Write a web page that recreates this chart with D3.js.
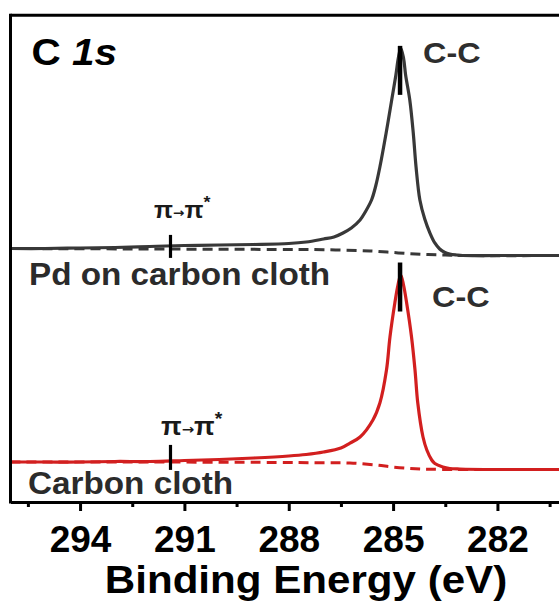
<!DOCTYPE html>
<html>
<head>
<meta charset="utf-8">
<script src="https://cdn.jsdelivr.net/npm/d3@7"></script>
<style>
  html, body { margin: 0; padding: 0; background: #fff; overflow: hidden; }
  svg { display: block; }
  text { font-family: "Liberation Sans", Arial, Helvetica, sans-serif; font-weight: bold; }
</style>
</head>
<body>
<svg id="chart" width="559" height="603"></svg>
<script>
// C 1s XPS spectra: binding energy (eV) vs intensity (a.u.)

// Pd on carbon cloth
const pdEnergy = [296.0, 295.0, 294.0, 293.0, 292.0, 291.0, 290.0, 289.0, 288.0, 287.5,
  287.0, 286.7, 286.44, 286.2, 285.95, 285.8, 285.62, 285.5, 285.38, 285.2,
  285.04, 284.92, 284.85, 284.78, 284.70, 284.64, 284.52, 284.42, 284.34, 284.23,
  284.09, 283.94, 283.8, 283.66, 283.51, 283.37, 283.17, 283.0, 282.0, 281.0, 280.0];
const pdIntensity = [1.95, 1.95, 2.06, 2.16, 2.37, 2.57, 2.67, 2.78, 2.98, 3.29,
  3.91, 4.32, 5.14, 6.17, 7.82, 9.47, 11.93, 14.81, 18.72, 25.72,
  32.51, 37.65, 41.15, 43.21, 41.15, 37.65, 32.51, 25.72, 18.72, 11.93,
  8.02, 5.14, 3.09, 1.85, 1.13, 0.82, 0.62, 0.51, 0.51, 0.51, 0.51];
const pdBgEnergy = [296, 292, 288, 287, 286, 285.5, 285, 284.5, 284, 283.5, 283, 280];
const pdBackground = [1.95, 1.85, 1.75, 1.71, 1.54, 1.38, 1.13, 0.88, 0.72, 0.62, 0.51, 0.51];

// Bare carbon cloth
const ccEnergy = [296.0, 295.0, 294.0, 293.0, 292.0, 291.0, 290.0, 289.0, 288.0, 287.5,
  287.0, 286.5, 286.24, 285.95, 285.58, 285.38, 285.19, 285.09, 284.95, 284.86,
  284.78, 284.70, 284.61, 284.47, 284.37, 284.29, 284.14, 284.03, 283.89, 283.80,
  283.57, 283.37, 283.08, 282.0, 281.0, 280.0];
const ccIntensity = [8.02, 8.02, 8.02, 8.13, 8.13, 8.33, 8.54, 8.85, 9.26, 9.57,
  10.08, 10.91, 11.93, 13.17, 16.67, 20.16, 26.95, 33.74, 40.74, 44.44,
  46.50, 44.44, 40.74, 33.74, 26.95, 20.16, 13.17, 10.49, 8.44, 7.72,
  7.00, 6.69, 6.58, 6.48, 6.48, 6.48];
const ccBgEnergy = [296, 292, 288, 287, 286.24, 285.5, 285, 284.5, 284, 283, 280];
const ccBackground = [8.02, 8.02, 7.92, 7.86, 7.82, 7.41, 6.99, 6.69, 6.54, 6.48, 6.48];

// vertical stacking offsets
const pdOffset = 50;
const ccOffset = 0;

// peak assignments
const ccPeakEnergy = 284.8;
const piPeakEnergy = 291.4;

const majorTicks = [294, 291, 288, 285, 282];
const minorTicks = [295.5, 292.5, 289.5, 286.5, 283.5, 280.5];
const sampleNames = ["Pd on carbon cloth", "Carbon cloth"];
const peakName = "C-C";
const axisTitle = "Binding Energy (eV)";

const svg = d3.select("#chart");
const x = d3.scaleLinear().domain([296, 280]).range([10.5, 567]);
const y = d3.scaleLinear().domain([0, 100]).range([501, 15]);
const axisY = 502;
const frameTop = 15.3;

const zip = (a, b) => a.map((e, i) => [e, b[i]]);
const lineGen = off => d3.line()
  .x(d => x(d[0]))
  .y(d => y(d[1] + off))
  .curve(d3.curveCatmullRom.alpha(0.5));

// value of a spectrum at a given energy (linear between read points)
function valueAt(energies, values, e) {
  for (let i = 0; i < energies.length - 1; i++) {
    const a = energies[i], b = energies[i + 1];
    if (e <= a && e >= b) {
      const t = (a - e) / (a - b);
      return values[i] + t * (values[i + 1] - values[i]);
    }
  }
  return values[values.length - 1];
}

const panels = [
  { energy: pdEnergy, values: pdIntensity, bgE: pdBgEnergy, bg: pdBackground, off: pdOffset,
    color: "#383838", markTop: -5, markLen: 49, piUp: 11, piDown: 12,
    name: sampleNames[0], nameX: 29, nameY: 285,
    peakX: 423, peakY: 63, piX: 154, piY: 218, piSize: 23 },
  { energy: ccEnergy, values: ccIntensity, bgE: ccBgEnergy, bg: ccBackground, off: ccOffset,
    color: "#d21f1f", markTop: -15, markLen: 49, piUp: 16, piDown: 9,
    name: sampleNames[1], nameX: 28, nameY: 494,
    peakX: 432, peakY: 306.5, piX: 161, piY: 435, piSize: 25 }
];

const plot = svg.append("g");

panels.forEach(p => {
  // fitted background
  plot.append("path")
    .datum(zip(p.bgE, p.bg))
    .attr("d", lineGen(p.off))
    .attr("fill", "none")
    .attr("stroke", p.color)
    .attr("stroke-width", 3)
    .attr("stroke-dasharray", "10,6");
  // measured spectrum
  plot.append("path")
    .datum(zip(p.energy, p.values))
    .attr("d", lineGen(p.off))
    .attr("fill", "none")
    .attr("stroke", p.color)
    .attr("stroke-width", 3.2)
    .attr("stroke-linejoin", "round");

  // C-C peak marker
  const apex = y(valueAt(p.energy, p.values, ccPeakEnergy) + p.off);
  plot.append("line")
    .attr("x1", x(ccPeakEnergy)).attr("x2", x(ccPeakEnergy))
    .attr("y1", apex + p.markTop).attr("y2", apex + p.markTop + p.markLen)
    .attr("stroke", "#000").attr("stroke-width", 4.5);

  // pi -> pi* satellite marker
  const sat = y(valueAt(p.energy, p.values, piPeakEnergy) + p.off);
  plot.append("line")
    .attr("x1", x(piPeakEnergy)).attr("x2", x(piPeakEnergy))
    .attr("y1", sat - p.piUp).attr("y2", sat + p.piDown)
    .attr("stroke", "#000").attr("stroke-width", 3.2);

  // labels
  svg.append("text")
    .attr("transform", `translate(${p.nameX},${p.nameY}) scale(1.08,1)`)
    .attr("font-size", 30.8)
    .attr("fill", "#2b2b2b")
    .text(p.name);

  svg.append("text")
    .attr("transform", `translate(${p.peakX},${p.peakY}) scale(1.08,1)`)
    .attr("font-size", 30)
    .attr("fill", "#2e2e2e")
    .text(peakName);

  const pi = svg.append("text")
    .attr("transform", `translate(${p.piX},${p.piY}) scale(1.08,1)`)
    .attr("font-size", p.piSize)
    .attr("fill", "#1a1a1a");
  pi.append("tspan").text("π");
  pi.append("tspan")
    .attr("font-family", '"DejaVu Sans", sans-serif')
    .attr("font-weight", "bold")
    .attr("font-size", p.piSize * 0.55)
    .attr("dy", -1.5)
    .text("→");
  pi.append("tspan").attr("dy", 1.5).text("π");
  pi.append("tspan").attr("font-size", p.piSize * 0.72).attr("dy", -p.piSize * 0.42).text("*");
});

// frame: top and left edges (right edge lies beyond the visible area)
svg.append("line")
  .attr("x1", x.range()[0]).attr("x2", x.range()[1] + 3)
  .attr("y1", frameTop).attr("y2", frameTop)
  .attr("stroke", "#000").attr("stroke-width", 3);
svg.append("line")
  .attr("x1", x.range()[0]).attr("x2", x.range()[0])
  .attr("y1", frameTop - 1.5).attr("y2", axisY + 1.5)
  .attr("stroke", "#000").attr("stroke-width", 3);

// bottom axis
const minorAxis = svg.append("g")
  .attr("transform", `translate(0,${axisY})`)
  .call(d3.axisBottom(x).tickValues(minorTicks).tickFormat("").tickSize(5).tickSizeOuter(0));
minorAxis.select(".domain").remove();
minorAxis.selectAll("line").attr("stroke", "#000").attr("stroke-width", 3);

const majorAxis = svg.append("g")
  .attr("transform", `translate(0,${axisY})`)
  .call(d3.axisBottom(x).tickValues(majorTicks).tickFormat(d3.format("d")).tickSize(9).tickSizeOuter(0));
majorAxis.select(".domain").attr("stroke", "#000").attr("stroke-width", 3);
majorAxis.selectAll(".tick line").attr("stroke", "#000").attr("stroke-width", 3);
majorAxis.selectAll(".tick text")
  .attr("y", 49.5).attr("dy", null)
  .attr("font-size", 37)
  .attr("font-family", '"Liberation Sans", Arial, sans-serif')
  .attr("font-weight", "bold")
  .attr("fill", "#000");

// axis title
svg.append("text")
  .attr("transform", `translate(306,593) scale(1.08,1)`)
  .attr("text-anchor", "middle")
  .attr("font-size", 39)
  .attr("fill", "#000")
  .text(axisTitle);

// core level label
const core = svg.append("text")
  .attr("transform", "translate(31.5,65) scale(1.08,1)")
  .attr("font-size", 37.5)
  .attr("fill", "#000");
core.append("tspan").text("C ");
core.append("tspan").attr("font-style", "italic").text("1s");
</script>
</body>
</html>
